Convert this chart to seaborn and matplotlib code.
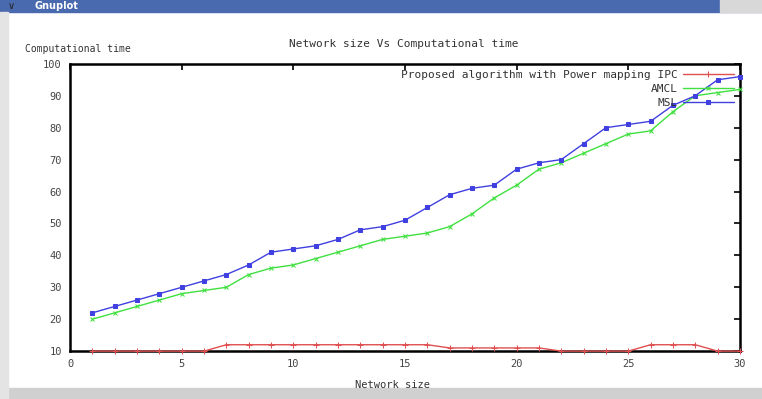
import pandas as pd
import numpy as np
import matplotlib
matplotlib.use("Agg")
import matplotlib.pyplot as plt
import seaborn as sns
from matplotlib.patches import Rectangle

# values
network_size = list(range(1, 31))
ipc_time = [10, 10, 10, 10, 10, 10, 12, 12, 12, 12, 12, 12, 12, 12, 12, 12, 11, 11, 11, 11,
            11, 10, 10, 10, 10, 12, 12, 12, 10, 10]
amcl_time = [20, 22, 24, 26, 28, 29, 30, 34, 36, 37, 39, 41, 43, 45, 46, 47, 49, 53, 58, 62,
             67, 69, 72, 75, 78, 79, 85, 90, 91, 92]
msl_time = [22, 24, 26, 28, 30, 32, 34, 37, 41, 42, 43, 45, 48, 49, 51, 55, 59, 61, 62, 67,
            69, 70, 75, 80, 81, 82, 87, 90, 95, 96]
series_names = ["Proposed algorithm with Power mapping IPC", "AMCL", "MSL"]
x_ticks = [0, 5, 10, 15, 20, 25, 30]
y_ticks = [10, 20, 30, 40, 50, 60, 70, 80, 90, 100]

sns.set_style("white")
plt.rcParams['font.family'] = ['DejaVu Sans Mono', 'DejaVu Sans']

df = pd.DataFrame({
    'size': network_size * 3,
    'time': ipc_time + amcl_time + msl_time,
    'series': [series_names[0]] * 30 + [series_names[1]] * 30 + [series_names[2]] * 30,
})

fig = plt.figure(figsize=(7.62, 3.99), dpi=100)
ax = fig.add_axes([0.092, 0.12, 0.879, 0.72])

colors = ['#e05050', '#40e040', '#4040e0']
markers = ['+', 'x', 's']
sizes = [5, 3, 3]
for name, col, mk, ms in zip(series_names, colors, markers, sizes):
    sub = df[df['series'] == name]
    sns.lineplot(data=sub, x='size', y='time', ax=ax, color=col, marker=mk,
                 markersize=ms, markeredgecolor=col, linewidth=1, label=name,
                 zorder=3, clip_on=False)

ax.set_xlim(0, 30)
ax.set_ylim(10, 100)
ax.set_xticks(x_ticks)
ax.set_yticks(y_ticks)
ax.tick_params(direction='in', length=4, width=1.2, labelsize=7.5, top=True, right=True,
               labeltop=False, labelright=False, colors='black', labelcolor='#444444',
               pad=6)
for s in ax.spines.values():
    s.set_linewidth(1.8)
    s.set_color('black')
ax.set_xlabel('')
ax.set_ylabel('')

leg = ax.legend(loc='upper right', frameon=False, markerfirst=False, fontsize=8,
                handlelength=4.6, borderaxespad=0.15, labelspacing=0.35, handletextpad=0.4)
for t in leg.get_texts():
    t.set_ha('right')
    t.set_color('#333333')
leg._legend_box.align = 'right'

# labels, placed as gnuplot does
fig.text(0.53, 0.89, 'Network size Vs Computational time', ha='center', va='center',
         fontsize=8, color='#333333')
fig.text(0.033, 0.877, 'Computational time', ha='left', va='center', fontsize=7,
         color='#333333')
fig.text(0.515, 0.035, 'Network size', ha='center', va='center', fontsize=7.5,
         color='#333333')

# window frame: title bar and bottom border
fig.patches.append(Rectangle((0, 0.97), 1, 0.03, transform=fig.transFigure,
                             color='#4a6ab0', zorder=0))
fig.patches.append(Rectangle((0.945, 0.97), 0.055, 0.03, transform=fig.transFigure,
                             color='#d8d8d8', zorder=1))
fig.text(0.045, 0.985, 'Gnuplot', ha='left', va='center', fontsize=7, color='white',
         family='DejaVu Sans', weight='bold')
fig.text(0.01, 0.985, '\u2228', ha='left', va='center', fontsize=7, color='#222222',
         family='DejaVu Sans')
fig.patches.append(Rectangle((0, 0), 1, 0.028, transform=fig.transFigure,
                             color='#d0d0d0', zorder=0))
fig.patches.append(Rectangle((0, 0), 0.01, 0.97, transform=fig.transFigure,
                             color='#e4e4e4', zorder=0))

fig.savefig('out.png', dpi=100)
